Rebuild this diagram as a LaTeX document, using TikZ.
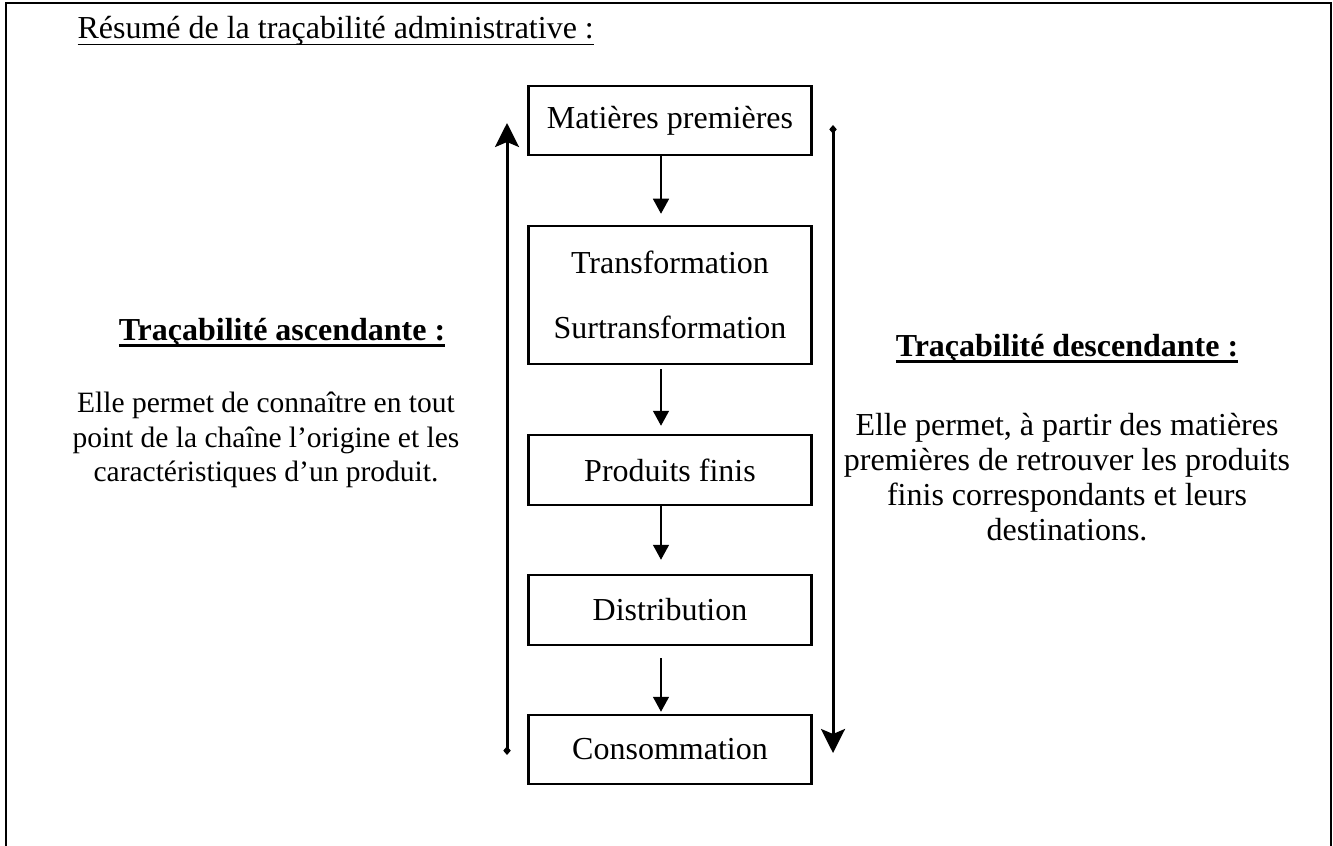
\documentclass[tikz,border=0pt]{standalone}
\usepackage{fontspec}
\setmainfont{Liberation Serif}
\usetikzlibrary{arrows.meta}
\newcommand\myul[2]{\setbox0\hbox{#2}\rlap{\rule[-2.6pt]{\wd0}{#1}}\box0}
\begin{document}
\begin{tikzpicture}[x=0.4pt,y=-0.4pt,
  txt/.style={font=\fontsize{12.8}{13.9}\selectfont, inner sep=0pt},
  stage/.style={draw, line width=1pt, minimum width=113.2pt, txt, align=center},
  flow/.style={line width=0.6pt, -{Triangle[length=6pt,width=6.4pt]}},
  trace/.style={line width=1.2pt, {Diamond[length=3.5pt,width=3pt]}-{Stealth[length=9.6pt,width=9.6pt,inset=2pt]}},
  frame/.style={line width=0.8pt}]
\useasboundingbox (0,0) rectangle (1333,846);
\draw[frame] (6,846) -- (6,3) -- (1331,3) -- (1331,846);

\node[txt, anchor=base west] (title) at (77,39) {\myul{0.7pt}{Résumé de la traçabilité administrative :}};

\node[stage, minimum height=27.6pt] (b1) at (670,120.5) {Matières premières};
\node[stage, minimum height=55.2pt] (b2) at (670,295) {Transformation\\[12pt]Surtransformation};
\node[stage, minimum height=28pt] (b3) at (670,470) {Produits finis};
\node[stage, minimum height=28pt] (b4) at (670,610) {Distribution};
\node[stage, minimum height=27.6pt] (b5) at (670,749.5) {Consommation};

\draw[flow, shorten >=4.4pt] ([xshift=-3.6pt]b1.south) -- ([xshift=-3.6pt]b2.north);
\draw[flow, shorten <=1.6pt, shorten >=3.2pt] ([xshift=-3.6pt]b2.south) -- ([xshift=-3.6pt]b3.north);
\draw[flow, shorten >=5.6pt] ([xshift=-3.6pt]b3.south) -- ([xshift=-3.6pt]b4.north);
\draw[flow, shorten <=4.8pt, shorten >=0.8pt] ([xshift=-3.6pt]b4.south) -- ([xshift=-3.6pt]b5.north);

\coordinate (La) at (507,755);
\coordinate (Lb) at (507,123);
\draw[trace] (La) -- (Lb);
\coordinate (Ra) at (833,125);
\coordinate (Rb) at (833,753);
\draw[trace] (Ra) -- (Rb);

\node[txt, anchor=base] (hl) at (282,340) {\bfseries\myul{1.2pt}{Traçabilité ascendante :}};
\node[txt, align=center, font=\fontsize{11.8}{13.7}\selectfont] (pl) at (266,440) {Elle permet de connaître en tout\\point de la chaîne l’origine et les\\caractéristiques d’un produit.};

\node[txt, anchor=base] (hr) at (1067,356) {\bfseries\myul{1.2pt}{Traçabilité descendante :}};
\node[txt, align=center] (pr) at (1067,477) {Elle permet, à partir des matières\\premières de retrouver les produits\\finis correspondants et leurs\\destinations.};
\end{tikzpicture}
\end{document}
